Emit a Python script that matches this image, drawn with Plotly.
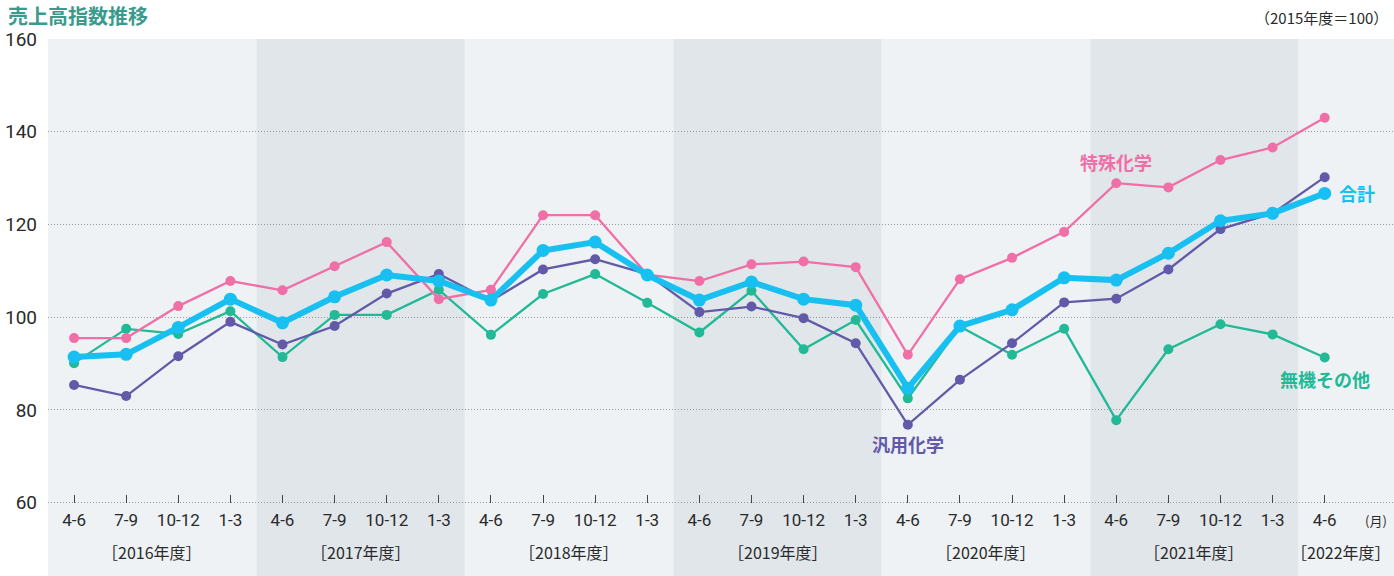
import plotly.graph_objects as go

# ---- data -------------------------------------------------------------
quarters = ["4-6", "7-9", "10-12", "1-3",
            "4-6", "7-9", "10-12", "1-3",
            "4-6", "7-9", "10-12", "1-3",
            "4-6", "7-9", "10-12", "1-3",
            "4-6", "7-9", "10-12", "1-3",
            "4-6", "7-9", "10-12", "1-3",
            "4-6"]
fiscal_years = ["2016年度", "2017年度", "2018年度", "2019年度",
                "2020年度", "2021年度", "2022年度"]

specialty = [95.5, 95.5, 102.4, 107.8, 105.8, 111.0, 116.2, 103.9,
             105.9, 122.0, 122.0, 109.2, 107.8, 111.4, 112.0, 110.8,
             91.9, 108.2, 112.8, 118.4, 128.9, 128.0, 133.9, 136.6, 143.0]
total = [91.4, 92.0, 97.8, 103.9, 98.8, 104.4, 109.1, 107.8,
         103.7, 114.4, 116.2, 109.1, 103.7, 107.6, 103.9, 102.6,
         84.7, 98.1, 101.6, 108.5, 108.0, 113.8, 120.8, 122.4, 126.7]
commodity = [85.4, 83.0, 91.6, 99.0, 94.1, 98.1, 105.1, 109.3,
             103.5, 110.3, 112.5, 109.3, 101.1, 102.3, 99.8, 94.4,
             76.8, 86.5, 94.4, 103.2, 104.0, 110.3, 119.0, 122.4, 130.2]
inorganic = [90.1, 97.5, 96.4, 101.3, 91.4, 100.5, 100.5, 105.9,
             96.2, 105.0, 109.3, 103.1, 96.7, 105.7, 93.1, 99.4,
             82.5, 98.0, 91.9, 97.5, 77.8, 93.1, 98.5, 96.3, 91.3]

y_ticks = [60, 80, 100, 120, 140, 160]

# ---- styling ----------------------------------------------------------
PINK = "#ef6fa6"
CYAN = "#17c0f0"
PURPLE = "#6259a9"
GREEN = "#22b996"
TEAL = "#3a9a8c"
BAND_LIGHT = "#eef2f5"
BAND_DARK = "#e1e6ea"
TEXT = "#2a2a2a"
NUM_FONT = "Roboto, sans-serif"
NARROW_FONT = "Liberation Sans Narrow, Roboto, sans-serif"
JP_FONT = "Noto Sans CJK JP, sans-serif"

W, H = 1394, 576
TOP, LEFT = 39, 48
AXIS_PX = 502.7          # pixel row of the 60 baseline
PLOT_H = H - TOP
units_per_px = (max(y_ticks) - min(y_ticks)) / (AXIS_PX - TOP)
y_low = max(y_ticks) - PLOT_H * units_per_px
axis_pos = (H - AXIS_PX) / PLOT_H

step_px = 52.11
x_left = -0.5
x_right = x_left + (W - LEFT) / step_px

x = list(range(len(quarters)))

fig = go.Figure()

# alternating fiscal-year background bands
shapes = []
for i, fy in enumerate(fiscal_years):
    shapes.append(dict(
        type="rect", xref="x", yref="paper",
        x0=4 * i - 0.5, x1=min(4 * i + 3.5, x_right + 1), y0=0, y1=1,
        fillcolor=BAND_LIGHT if i % 2 == 0 else BAND_DARK,
        line=dict(width=0), layer="below",
    ))


def add_series(values, color, width, msize):
    fig.add_trace(go.Scatter(
        x=x, y=values, mode="lines+markers",
        line=dict(color=color, width=width),
        marker=dict(color=color, size=msize),
        showlegend=False, hoverinfo="skip", cliponaxis=False,
    ))


add_series(inorganic, GREEN, 2.3, 10)
add_series(commodity, PURPLE, 2.3, 10)
add_series(specialty, PINK, 2.3, 10)
add_series(total, CYAN, 6, 13)

annotations = []

# fiscal-year labels under the quarter ticks
fy_row = (H - 551.7) / PLOT_H
for i, fy in enumerate(fiscal_years):
    label = dict(
        text="［" + fy + "］", showarrow=False, yref="paper", y=fy_row,
        font=dict(family=JP_FONT, size=16, color=TEXT), yanchor="middle",
    )
    if i == len(fiscal_years) - 1:
        # last (partial) year sits against the right edge
        label.update(x=1, xref="paper", xanchor="right", xshift=-1)
    else:
        label.update(x=4 * i + 1.5, xref="x", xanchor="center")
    annotations.append(label)

# month unit
annotations.append(dict(
    x=1, y=(H - 520.7) / PLOT_H, xref="paper", yref="paper",
    text="(月)", showarrow=False,
    font=dict(family=JP_FONT, size=13, color=TEXT),
    xanchor="right", yanchor="middle", xshift=-5,
))

# series labels
last = len(quarters) - 1
label_font = dict(family=JP_FONT, size=18, weight="bold")
annotations += [
    dict(x=20, y=133.4, xref="x", yref="y", text="特殊化学", showarrow=False,
         font=dict(label_font, color=PINK),
         xanchor="center", yanchor="middle"),
    dict(x=last, y=total[last], xref="x", yref="y", text="合計", showarrow=False,
         font=dict(label_font, color=CYAN),
         xanchor="left", yanchor="middle", xshift=12),
    dict(x=last, y=86.7, xref="x", yref="y", text="無機その他", showarrow=False,
         font=dict(label_font, color=GREEN),
         xanchor="center", yanchor="middle"),
    dict(x=16, y=72.7, xref="x", yref="y", text="汎用化学", showarrow=False,
         font=dict(label_font, color=PURPLE),
         xanchor="center", yanchor="middle"),
]

# title and base note
annotations += [
    dict(x=0, y=1, xref="paper", yref="paper", text="<b>売上高指数推移</b>",
         showarrow=False, font=dict(family=JP_FONT, size=20, color=TEAL),
         xanchor="left", yanchor="top", xshift=-41, yshift=TOP, borderpad=0),
    dict(x=1, y=1, xref="paper", yref="paper", text="（2015年度＝100）",
         showarrow=False, font=dict(family=JP_FONT, size=15, color=TEXT),
         xanchor="right", yanchor="middle", xshift=-4, yshift=22),
]

fig.update_layout(
    width=W, height=H,
    margin=dict(l=LEFT, r=0, t=TOP, b=0, pad=0),
    paper_bgcolor="white", plot_bgcolor="white",
    shapes=shapes, annotations=annotations,
    xaxis=dict(
        range=[x_left, x_right], anchor="free", position=axis_pos,
        tickmode="array", tickvals=x, ticktext=quarters,
        ticks="inside", ticklen=8, tickwidth=1, tickcolor="#444",
        showgrid=False, zeroline=False, showline=False,
        tickfont=dict(family=NUM_FONT, size=17, color=TEXT),
        ticklabelstandoff=5,
    ),
    yaxis=dict(
        range=[y_low, max(y_ticks)], tickmode="array", tickvals=y_ticks,
        showgrid=True, gridcolor="#9a9a9a", gridwidth=1, griddash="1px,2px",
        zeroline=False, showline=False, ticks="",
        tickfont=dict(family=NARROW_FONT, size=19, color=TEXT),
        ticklabelstandoff=10,
    ),
)

fig.write_html("out.html")
